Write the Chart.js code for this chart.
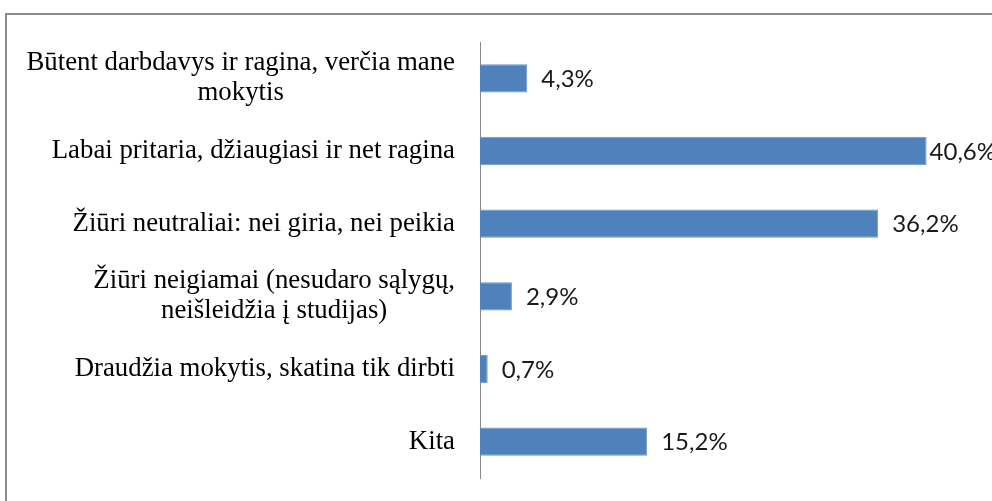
<!DOCTYPE html>
<html lang="lt">
<head>
  <meta charset="utf-8">
  <title>Darbdavio požiūris į studijas</title>
  <script src="https://cdn.jsdelivr.net/npm/chart.js@4.4.1/dist/chart.umd.min.js"></script>
  <style>
    html, body { margin: 0; padding: 0; background: #fff; }
    #wrap { position: relative; width: 992px; height: 501px; overflow: hidden; }
    #frame {
      position: absolute; left: 5px; top: 13px; width: 1100px; height: 600px;
      border-top: 2px solid #8c8c8c; border-left: 2px solid #8c8c8c;
    }
    #chart { position: absolute; left: 0; top: 0; }
  </style>
</head>
<body>
  <div id="wrap">
    <div id="frame"></div>
    <canvas id="chart" width="992" height="501"></canvas>
  </div>

  <script>
    // data
    var categories = [
      ["Būtent darbdavys ir ragina, verčia mane", "mokytis"],
      ["Labai pritaria, džiaugiasi ir net ragina"],
      ["Žiūri neutraliai: nei giria, nei peikia"],
      ["Žiūri neigiamai (nesudaro sąlygų,", "neišleidžia į studijas)"],
      ["Draudžia mokytis, skatina tik dirbti"],
      ["Kita"]
    ];
    var shares = [4.3, 40.6, 36.2, 2.9, 0.7, 15.2];
    var shareLabels = ["4,3%", "40,6%", "36,2%", "2,9%", "0,7%", "15,2%"];

    // draws category names (right aligned blocks, centred lines) and value labels
    var labelPlugin = {
      id: 'labelPlugin',
      afterDatasetsDraw: function(chart) {
        var ctx = chart.ctx;
        var yScale = chart.scales.y;
        var meta = chart.getDatasetMeta(0);
        ctx.save();
        ctx.textBaseline = 'middle';

        // category labels
        ctx.font = '26.8px "Liberation Serif", "Times New Roman", serif';
        ctx.fillStyle = '#000';
        ctx.textAlign = 'center';
        var right = chart.chartArea.left - 25;
        var lineH = 30;
        categories.forEach(function(lines, i) {
          var yc = yScale.getPixelForValue(i);
          var w = 0;
          lines.forEach(function(t) { w = Math.max(w, ctx.measureText(t).width); });
          var cx = right - w / 2;
          var y0 = yc - (lines.length - 1) * lineH / 2;
          lines.forEach(function(t, k) { ctx.fillText(t, cx, y0 + k * lineH); });
        });

        // value labels
        ctx.font = '24px Lato, "Open Sans", sans-serif';
        ctx.fillStyle = '#1a1a1a';
        ctx.textAlign = 'left';
        meta.data.forEach(function(bar, i) {
          var t = shareLabels[i];
          var tw = ctx.measureText(t).width;
          var x = Math.min(bar.x + 14, 996 - tw);
          ctx.fillText(t, x, bar.y + 1);
        });
        ctx.restore();
      }
    };

    new Chart(document.getElementById('chart'), {
      type: 'bar',
      data: {
        labels: categories,
        datasets: [{
          data: shares,
          backgroundColor: '#4F81BD',
          borderColor: '#6a96cc',
          borderWidth: 1,
          barPercentage: 0.39,
          categoryPercentage: 1.0
        }]
      },
      options: {
        indexAxis: 'y',
        responsive: false,
        animation: false,
        events: [],
        layout: { padding: { left: 0, right: 6, top: 42, bottom: 23 } },
        plugins: { legend: { display: false }, tooltip: { enabled: false } },
        scales: {
          x: { display: false, min: 0, max: 46 },
          y: {
            grid: { display: false },
            border: { display: true, color: '#8a8a8a', width: 1 },
            ticks: { display: false },
            afterFit: function(scale) { scale.width = 480; }
          }
        }
      },
      plugins: [labelPlugin]
    });
  </script>
</body>
</html>
